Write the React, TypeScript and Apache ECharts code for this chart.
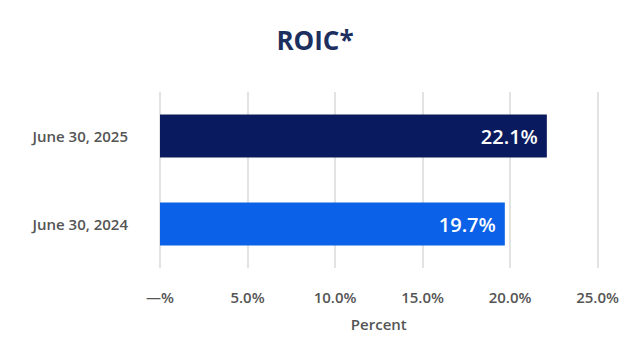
import React, { useEffect, useRef } from "react";
import * as echarts from "echarts";

const categories = ["June 30, 2024", "June 30, 2025"];
const values = [19.7, 22.1];
const barColors = ["#0b62e8", "#0a1a5e"];
const title = "ROIC*";
const axisName = "Percent";

const FONT = "Open Sans";

export default function App() {
  const ref = useRef<HTMLDivElement>(null);
  useEffect(() => {
    if (!ref.current) return;
    const chart = echarts.init(ref.current, null, { renderer: "svg" });
    chart.setOption({
      animation: false,
      textStyle: { fontFamily: FONT },
      title: {
        text: title,
        left: "center",
        top: 14,
        textStyle: { fontFamily: FONT, fontWeight: "bold", fontSize: 26, color: "#1c2f5e" },
      },
      grid: { left: 152, right: 16, top: 84, bottom: 84 },
      xAxis: {
        type: "value",
        min: 0,
        max: 25,
        interval: 5,
        name: axisName,
        nameLocation: "middle",
        nameGap: 48,
        nameTextStyle: { fontFamily: FONT, fontSize: 15, color: "#555", fontWeight: 600 },
        axisLine: { show: false },
        axisTick: { show: false },
        axisLabel: {
          fontFamily: FONT,
          fontSize: 15,
          color: "#555",
          fontWeight: 600,
          margin: 21,
          formatter: (v: number) => (v === 0 ? "—%" : v.toFixed(1) + "%"),
        },
        splitLine: { show: true, lineStyle: { color: "#e3e3e3", width: 2 } },
      },
      yAxis: {
        type: "category",
        data: categories,
        axisLine: { show: false },
        axisTick: { show: false },
        axisLabel: { fontFamily: FONT, fontSize: 15, color: "#555", fontWeight: 600, margin: 32 },
      },
      series: [
        {
          type: "bar",
          data: values.map((v, i) => ({ value: v, itemStyle: { color: barColors[i] } })),
          barWidth: 43,
          label: {
            show: true,
            position: "insideRight",
            color: "#fff",
            fontFamily: FONT,
            fontSize: 20,
            fontWeight: 600,
            distance: 9,
            formatter: (p: any) => p.value.toFixed(1) + "%",
          },
        },
      ],
    });
    return () => chart.dispose();
  }, []);
  return <div ref={ref} style={{ width: 614, height: 344 }} />;
}
